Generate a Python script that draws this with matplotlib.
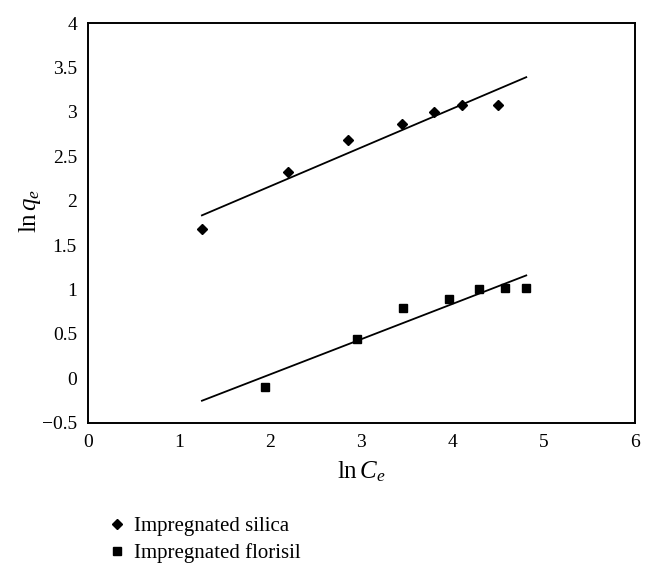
import numpy as np
import matplotlib
matplotlib.use('Agg')
import matplotlib.pyplot as plt

# data (ln Ce, ln qe)
silica_x = [1.25, 2.2, 2.85, 3.45, 3.8, 4.1, 4.5]
silica_y = [1.68, 2.32, 2.68, 2.86, 3.0, 3.08, 3.08]
florisil_x = [1.94, 2.95, 3.46, 3.96, 4.29, 4.58, 4.81]
florisil_y = [-0.095, 0.44, 0.79, 0.895, 1.004, 1.015, 1.02]
fit_range = [1.25, 4.81]
labels = ['Impregnated silica', 'Impregnated florisil']

plt.rcParams['font.family'] = ['Liberation Serif', 'DejaVu Serif']
plt.rcParams['mathtext.fontset'] = 'custom'
plt.rcParams['mathtext.rm'] = 'Liberation Serif'
plt.rcParams['mathtext.it'] = 'Liberation Serif:italic'

fig = plt.figure(figsize=(6.57, 5.76), dpi=100)
ax = fig.add_axes([0.134, 0.266, 0.832, 0.694])

xf = np.array(fit_range)
for xs, ys, mk, ms, lab in [(silica_x, silica_y, 'D', 5.5, labels[0]),
                            (florisil_x, florisil_y, 's', 6, labels[1])]:
    ax.plot(xs, ys, linestyle='none', marker=mk, ms=ms, color='black', label=lab)
    k, b = np.polyfit(xs, ys, 1)
    ax.plot(xf, k * xf + b, color='black', lw=1.3)

ax.set_xlim(0, 6)
ax.set_ylim(-0.5, 4)
ax.set_xticks(range(0, 7))
ax.set_yticks(np.arange(-0.5, 4.01, 0.5))
ax.set_yticklabels(['\u22120.5', '0', '0.5', '1', '1.5', '2', '2.5', '3', '3.5', '4'])
ax.tick_params(length=0, labelsize=14, pad=8)
for s in ax.spines.values():
    s.set_linewidth(1.4)

ax.set_xlabel(r'$\mathrm{ln}\,C_e$', fontsize=18, labelpad=6)
ax.set_ylabel(r'$\mathrm{ln}\,q_e$', fontsize=18)
ax.yaxis.set_label_coords(-0.082, 0.53)

fig.legend(loc='upper left', bbox_to_anchor=(0.15, 0.118), frameon=False,
           fontsize=15, handletextpad=0.3, labelspacing=0.35, handlelength=1.0,
           borderaxespad=0)

fig.savefig('out.png', dpi=100)
